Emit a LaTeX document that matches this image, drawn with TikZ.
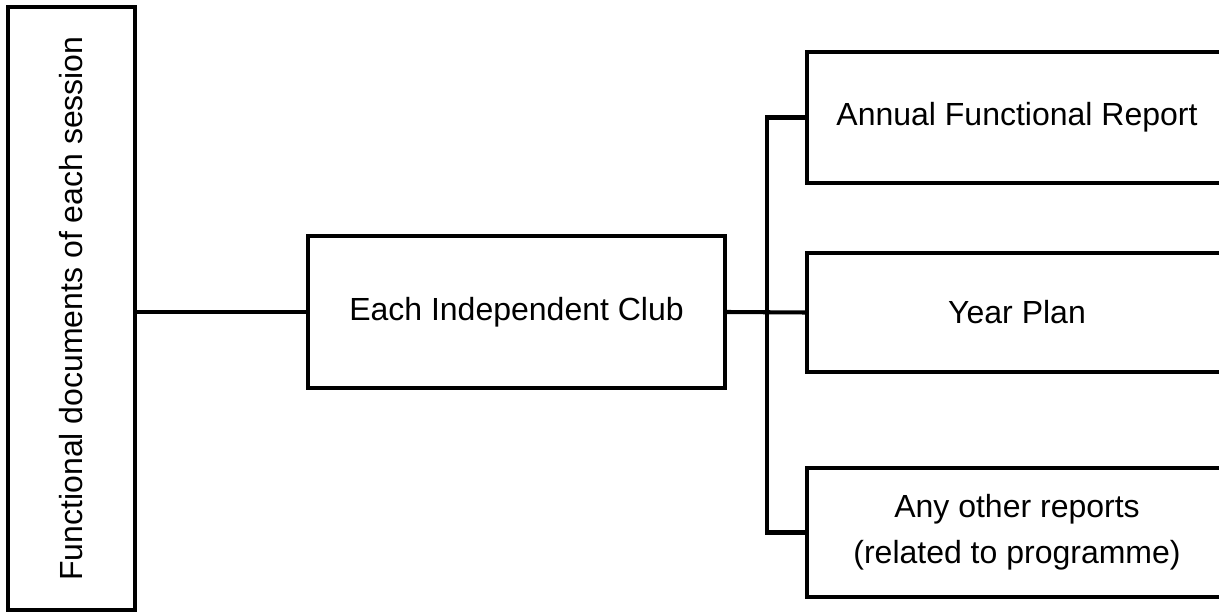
\documentclass[tikz,border=0pt]{standalone}
\usepackage{fontspec}
\setmainfont{Liberation Sans}
\usepackage{tikz}

\begin{document}
\begin{tikzpicture}[x=0.01cm,y=-0.01cm,
	box/.style={draw,line width=1.15pt,inner sep=0pt,align=center,font=\fontsize{9.1}{13.1}\selectfont},
	link/.style={line width=1.15pt}]
	\clip (0,0) rectangle (1219,616);
	
	\node (session) [box,rotate=90,minimum width=6.03cm,minimum height=1.27cm] at (71.5,308.5) {Functional documents of each session};
	\node (club) [box,minimum width=4.17cm,minimum height=1.52cm] at (516.5,312) {Each Independent Club};
	
	\node (annual) [box,minimum width=4.2cm,minimum height=1.31cm] at (1017,117.5) {Annual Functional Report};
	\node (year) [box,minimum width=4.2cm,minimum height=1.19cm] at (1017,312.5) {Year Plan};
	\node (other) [box,minimum width=4.2cm,minimum height=1.29cm] at (1017,532.5) {Any other reports\\(related to programme)};
	
	\coordinate (bus) at (767,312.5);
	
	\draw [link] (session.south |- club.west) -- (club.west);
	\draw [link] (club.east) -- (year.west);
	\draw [link] (annual.west) -| (bus) |- (other.west);
\end{tikzpicture}
\end{document}
